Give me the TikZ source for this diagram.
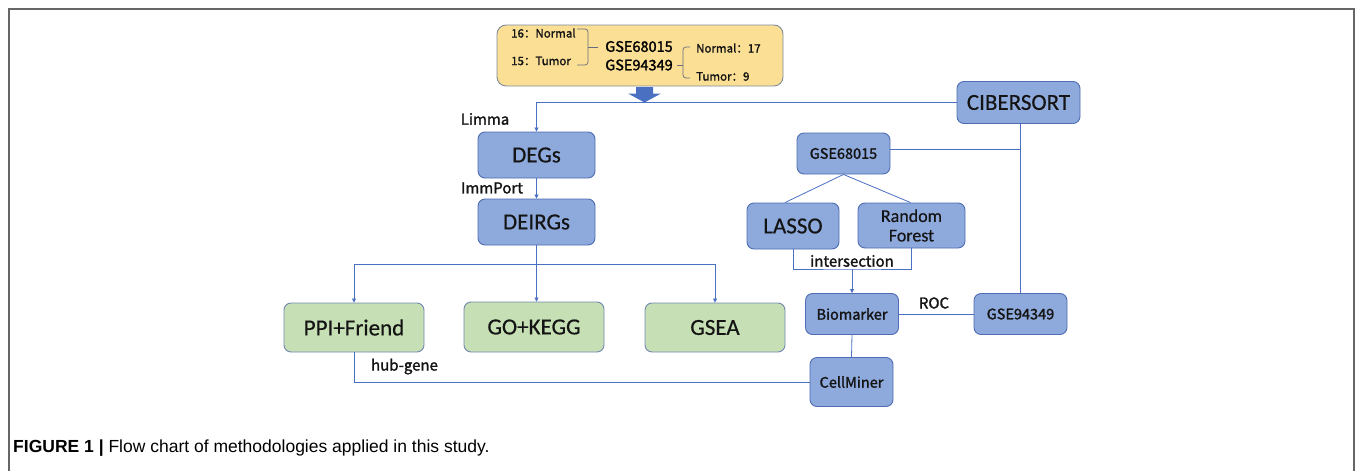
\documentclass[tikz,border=0pt]{standalone}
\usepackage{fontspec}
\setmainfont{Carlito}
\newfontfamily\bigf[FakeBold=0.4]{Carlito}
\newfontfamily\cjk[FakeBold=1.6]{Noto Sans CJK SC}
\newfontfamily\capfont{Liberation Sans}
\usetikzlibrary{arrows.meta,calc}
\definecolor{bfill}{HTML}{8EA9DB}
\definecolor{bdraw}{HTML}{4F6DB3}
\definecolor{gfill}{HTML}{C6DFB4}
\definecolor{gdraw}{HTML}{7388B0}
\definecolor{yfill}{HTML}{FBDF95}
\definecolor{ydraw}{HTML}{808A9C}
\definecolor{lblue}{HTML}{4A70C2}
\definecolor{frame}{HTML}{666666}
\tikzset{
  box/.style={draw=bdraw,fill=bfill,line width=0.9pt,rounded corners=7pt,inner sep=0pt,text=black!92},
  bigbox/.style={box,font=\bigf\fontsize{23}{25}\selectfont},
  smallbox/.style={box,font=\cjk\fontsize{14.5}{16}\selectfont},
  gbox/.style={draw=gdraw,fill=gfill,line width=0.9pt,rounded corners=7pt,inner sep=0pt,text=black!92,font=\bigf\fontsize{23}{25}\selectfont},
  conn/.style={draw=lblue,line width=0.8pt},
  arr/.style={conn,-{Triangle[length=4pt,width=4pt]}},
  lbl/.style={font=\cjk\fontsize{15}{17}\selectfont,inner sep=0pt,text=black!92},
  ylbl/.style={font=\cjk\fontsize{11.5}{13}\selectfont,inner sep=0pt,text=black!92},
  brk/.style={draw=ydraw!80!black,line width=0.7pt,rounded corners=3pt},
}
\begin{document}
\begin{tikzpicture}[x=1pt,y=-1pt]
\useasboundingbox (0,0) rectangle (1355,471);
% frame
\draw[frame,line width=1.2pt] (9,471) -- (9,9) -- (1354,9) -- (1354,471);
% yellow box
\node[draw=ydraw,fill=yfill,line width=0.9pt,rounded corners=9pt,minimum width=286pt,minimum height=61pt] (data) at (640,55.5) {};
\node[ylbl,anchor=west] (n16) at (511,33) {16：Normal};
\node[ylbl,anchor=west] (t15) at (511,61) {15：Tumor};
\node[font=\cjk\fontsize{14.5}{17}\selectfont,inner sep=0pt] (g68) at (639,46.5) {GSE68015};
\node[font=\cjk\fontsize{14.5}{17}\selectfont,inner sep=0pt] (g94) at (639,65) {GSE94349};
\node[ylbl,anchor=west] (n17) at (696,48) {Normal：17};
\node[ylbl,anchor=west] (t9) at (696,76.5) {Tumor：9};
\draw[brk] (577,29) -- (588,29) -- (588,65) -- (577,65);
\draw[brk,rounded corners=0pt] (588,47) -- (598,47);
\draw[brk] (690,47) -- (683,47) -- (683,78) -- (690,78);
\draw[brk,rounded corners=0pt] (683,65) -- (677,65);
% block arrow
\fill[lblue] (636,87) -- (653,87) -- (653,93.5) -- (661,93.5) -- (644.5,102.5) -- (628,93.5) -- (636,93.5) -- cycle;
% nodes
\node[bigbox,minimum width=117pt,minimum height=46pt] (degs) at (536.5,155) {DEGs};
\node[bigbox,minimum width=117pt,minimum height=46pt] (deirgs) at (536.5,222) {DEIRGs};
\node[gbox,minimum width=140pt,minimum height=49pt] (ppi) at (354,327.5) {PPI+Friend};
\node[gbox,minimum width=140pt,minimum height=50pt] (go) at (534,327) {GO+KEGG};
\node[gbox,minimum width=140pt,minimum height=49pt] (gsea) at (715,327.5) {GSEA};
\node[bigbox,minimum width=123pt,minimum height=42pt] (cib) at (1018.5,102.5) {CIBERSORT};
\node[smallbox,minimum width=93pt,minimum height=41pt] (gse68) at (843.5,153.5) {GSE68015};
\node[bigbox,minimum width=92pt,minimum height=46pt] (lasso) at (793,226) {LASSO};
\node[box,minimum width=107pt,minimum height=45pt,align=center,font=\bigf\fontsize{18}{19.5}\selectfont] (rf) at (911.5,225.5) {Random\\Forest};
\node[smallbox,minimum width=93pt,minimum height=41pt] (bio) at (852,314) {Biomarker};
\node[smallbox,minimum width=93pt,minimum height=41pt] (gse94) at (1020.5,314) {GSE94349};
\node[smallbox,minimum width=83pt,minimum height=49pt] (cell) at (851.5,382) {CellMiner};
% labels
\node[lbl] (limma) at (485,119) {Limma};
\node[lbl] (immport) at (492,188) {ImmPort};
\node[lbl] (hub) at (404.5,366.5) {hub-gene};
\node[lbl] (inter) at (852,261) {intersection};
\node[lbl] (roc) at (934,303) {ROC};
% connectors
\draw[arr] (cib.west) -| (degs.north);
\draw[arr] (degs.south) -- (deirgs.north);
\coordinate (split) at (deirgs.south |- 0,264);
\draw[conn] (deirgs.south) -- (split);
\draw[arr] (split) -| (ppi.north);
\draw[arr] (split) -| (gsea.north);
\draw[arr] (split) -- (go.north -| split);
\draw[conn] (ppi.south) |- (cell.west);
\draw[conn] (cib.south -| gse94.north) -- (gse94.north);
\coordinate (cibj) at (1021,149);
\draw[conn] (gse68.east |- cibj) -- (cibj);
\draw[conn] (gse68.south) -- ([xshift=-8pt]lasso.north);
\draw[conn] (gse68.south) -- ([xshift=-1pt]rf.north);
\coordinate (ix) at (852,269);
\draw[conn] (lasso.south) |- (ix) -| (rf.south);
\draw[arr] (ix) -- (bio.north);
\draw[conn] (bio.east) -- (gse94.west);
\draw[conn] (bio.south) -- (cell.north);
% caption
\node[anchor=base west,inner sep=0pt,font=\capfont\fontsize{17.5}{20}\selectfont] (cap) at (13,452) {\textbf{FIGURE 1 |} Flow chart of methodologies applied in this study.};
\end{tikzpicture}
\end{document}
